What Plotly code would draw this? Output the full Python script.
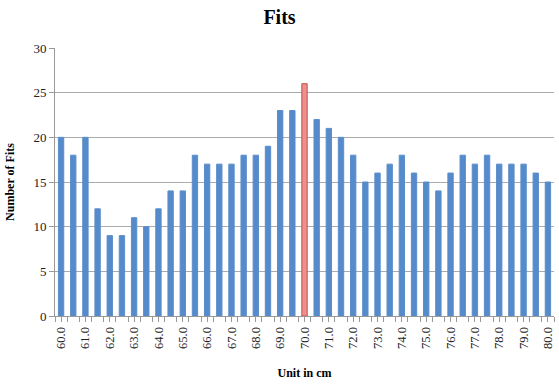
import plotly.graph_objects as go

units = [60.0 + 0.5 * i for i in range(41)]
fits = [20, 18, 20, 12, 9, 9, 11, 10, 12, 14, 14, 18, 17, 17, 17, 18, 18, 19, 23, 23,
        26, 22, 21, 20, 18, 15, 16, 17, 18, 16, 15, 14, 16, 18, 17, 18, 17, 17, 17, 16, 15]
highlight = 70.0
tick_vals = [60.0 + i for i in range(21)]
tick_text = [f"{v:.1f}" for v in tick_vals]

colors = ["#EE8F8A" if u == highlight else "#558ACB" for u in units]
lines = ["#C0504D" if u == highlight else "#5B8ECB" for u in units]

fig = go.Figure(go.Bar(x=units, y=fits, width=0.22,
                       marker=dict(color=colors, line=dict(color=lines, width=1))))

font = "Liberation Serif, DejaVu Serif, serif"
fig.update_layout(
    width=559, height=385,
    margin=dict(l=55, r=5, t=48, b=69),
    paper_bgcolor="white", plot_bgcolor="white",
    font=dict(family=font, size=12, color="#222"),
    title=dict(text="<b>Fits</b>", x=0.5, xanchor="center", y=0.955, yanchor="middle",
               font=dict(family=font, size=20, color="black")),
    showlegend=False,
)
fig.update_xaxes(
    range=[59.75, 80.25], tickvals=tick_vals, ticktext=tick_text, tickangle=-90,
    showgrid=False, showline=True, linecolor="#999", linewidth=1,
    ticks="outside", ticklen=5, tickcolor="#999",
    minor=dict(tick0=59.75, dtick=0.5, ticks="outside", ticklen=5, tickcolor="#999", showgrid=False),
    title=dict(text="<b>Unit in cm</b>", font=dict(size=12, color="black"), standoff=20),
    tickfont=dict(size=12.5), automargin=False,
)
fig.update_yaxes(
    range=[0, 30], dtick=5, showgrid=True, gridcolor="#ABABAB", gridwidth=1,
    showline=True, linecolor="#999", linewidth=1, ticks="outside", ticklen=5, tickcolor="#999",
    zeroline=False,
    title=dict(text="<b>Number of Fits</b>", font=dict(size=12, color="black"), standoff=16),
    tickfont=dict(size=13), automargin=False,
)
fig.write_html("out.html", config={"displayModeBar": False},
               post_script="document.body.style.margin='0';")
